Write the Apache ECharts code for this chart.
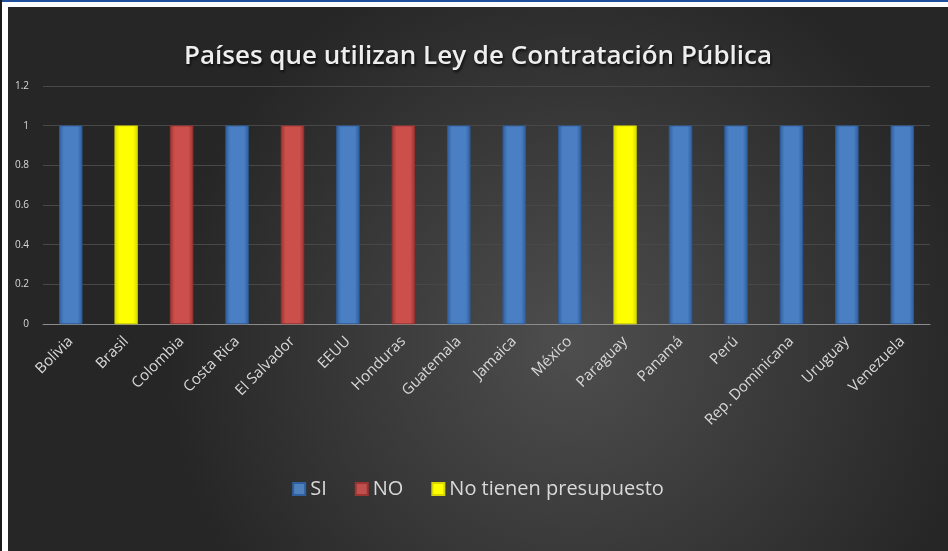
<!DOCTYPE html>
<html>
<head>
<meta charset="utf-8">
<script src="https://cdn.jsdelivr.net/npm/echarts@6/dist/echarts.min.js"></script>
<style>
  html, body { margin: 0; padding: 0; width: 948px; height: 551px; overflow: hidden; background: #ffffff; }
  .frame-left { position: absolute; left: 0; top: 0; width: 2px; height: 551px; background: #1a1a1a; }
  .frame-top { position: absolute; left: 2px; top: 0; width: 946px; height: 2px; background: #1f4e9a; }
  #chart { position: absolute; left: 8px; top: 7px; width: 940px; height: 544px; }
</style>
</head>
<body>
<div class="frame-left"></div>
<div class="frame-top"></div>
<div id="chart"></div>
<script>
const countries = ['Bolivia', 'Brasil', 'Colombia', 'Costa Rica', 'El Salvador', 'EEUU', 'Honduras',
  'Guatemala', 'Jamaica', 'México', 'Paraguay', 'Panamá', 'Perú', 'Rep. Dominicana', 'Uruguay', 'Venezuela'];
const siValues = [1, '-', '-', 1, '-', 1, '-', 1, 1, 1, '-', 1, 1, 1, 1, 1];
const noValues = ['-', '-', 1, '-', 1, '-', 1, '-', '-', '-', '-', '-', '-', '-', '-', '-'];
const sinPresupuestoValues = ['-', 1, '-', '-', '-', '-', '-', '-', '-', '-', 1, '-', '-', '-', '-', '-'];
const yTicks = [0, 0.2, 0.4, 0.6, 0.8, 1, 1.2];

const chart = echarts.init(document.getElementById('chart'));

function barGradient(edge, mid) {
  return new echarts.graphic.LinearGradient(0, 0, 1, 0, [
    { offset: 0, color: edge },
    { offset: 0.2, color: mid },
    { offset: 0.8, color: mid },
    { offset: 1, color: edge }
  ]);
}

function makeSeries(name, data, edge, mid) {
  return {
    name: name,
    type: 'bar',
    stack: 'total',
    data: data,
    barWidth: 23,
    itemStyle: {
      color: barGradient(edge, mid),
      borderColor: edge,
      borderWidth: 0.5
    },
    emphasis: { disabled: true }
  };
}

chart.setOption({
  backgroundColor: new echarts.graphic.RadialGradient(0.6, 0.62, 0.75, [
    { offset: 0, color: '#4e4e4e' },
    { offset: 1, color: '#262626' }
  ]),
  textStyle: { fontFamily: '"Open Sans", sans-serif' },
  title: {
    text: 'Países que utilizan Ley de Contratación Pública',
    left: 'center',
    top: 32,
    textStyle: {
      color: '#eeeeee',
      fontSize: 26,
      fontWeight: 600,
      fontFamily: '"Open Sans", sans-serif',
      textShadowColor: 'rgba(0,0,0,0.8)',
      textShadowBlur: 3,
      textShadowOffsetX: 1,
      textShadowOffsetY: 2
    }
  },
  legend: {
    bottom: 47,
    left: 'center',
    itemWidth: 12,
    itemHeight: 12,
    itemGap: 28,
    icon: 'rect',
    textStyle: { color: '#d9d9d9', fontSize: 20 },
    data: [
      { name: 'SI', itemStyle: { color: '#4f81bd' } },
      { name: 'NO', itemStyle: { color: '#c0504d' } },
      { name: 'No tienen presupuesto', itemStyle: { color: '#ffff00' } }
    ]
  },
  grid: {
    left: 35,
    right: 18,
    top: 79,
    bottom: 227,
    containLabel: false
  },
  xAxis: {
    type: 'category',
    data: countries,
    axisTick: { show: false },
    axisLine: { lineStyle: { color: '#8c8c8c', width: 1 } },
    axisLabel: {
      color: '#d9d9d9',
      fontSize: 15,
      rotate: 45,
      interval: 0,
      margin: 15
    }
  },
  yAxis: {
    type: 'value',
    min: yTicks[0],
    max: yTicks[yTicks.length - 1],
    interval: 0.2,
    axisLine: { show: false },
    axisTick: { show: false },
    splitLine: { lineStyle: { color: '#484848' } },
    axisLabel: {
      color: '#d9d9d9',
      fontSize: 10,
      margin: 14,
      formatter: function (v) { return String(Math.round(v * 10) / 10); }
    }
  },
  series: [
    makeSeries('SI', siValues, '#2f5f9e', '#4a7fc4'),
    makeSeries('NO', noValues, '#9c3431', '#cc4f4b'),
    makeSeries('No tienen presupuesto', sinPresupuestoValues, '#d8d800', '#ffff00')
  ]
});
</script>
</body>
</html>
